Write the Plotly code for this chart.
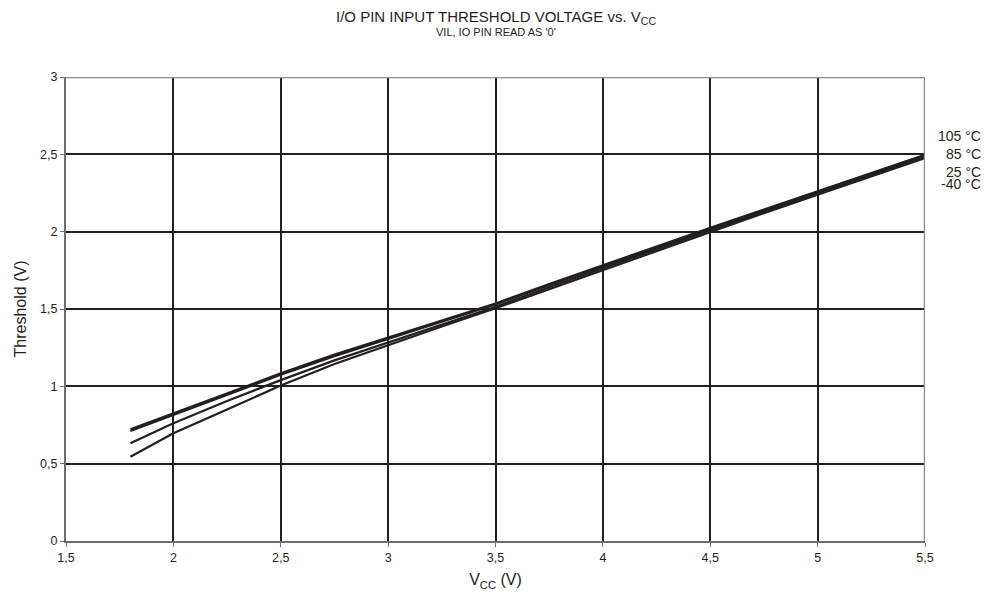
import plotly.graph_objects as go

vcc = [1.8, 2.0, 2.25, 2.5, 2.75, 3.0, 3.25, 3.5, 3.75, 4.0, 4.25, 4.5, 4.75, 5.0, 5.25, 5.5]
t105 = [0.722, 0.825, 0.958, 1.084, 1.205, 1.317, 1.424, 1.536, 1.662, 1.784, 1.905, 2.025, 2.143, 2.262, 2.380, 2.497]
t85 = [0.711, 0.815, 0.948, 1.075, 1.195, 1.305, 1.415, 1.530, 1.654, 1.776, 1.898, 2.019, 2.139, 2.258, 2.375, 2.492]
t25 = [0.632, 0.761, 0.905, 1.040, 1.168, 1.285, 1.398, 1.515, 1.641, 1.765, 1.888, 2.010, 2.130, 2.250, 2.367, 2.485]
tm40 = [0.545, 0.696, 0.850, 1.005, 1.145, 1.268, 1.387, 1.505, 1.628, 1.752, 1.877, 2.000, 2.120, 2.239, 2.357, 2.476]
series_names = ["105 °C", "85 °C", "25 °C", "-40 °C"]
label_y = [2.62, 2.505, 2.385, 2.31]

x_ticks = [1.5, 2, 2.5, 3, 3.5, 4, 4.5, 5, 5.5]
x_ticktext = ["1,5", "2", "2,5", "3", "3,5", "4", "4,5", "5", "5,5"]
y_ticks = [0, 0.5, 1, 1.5, 2, 2.5, 3]
y_ticktext = ["0", "0,5", "1", "1,5", "2", "2,5", "3"]

FONT = "Liberation Sans, Arial"
INK = "#231f20"

fig = go.Figure()
for name, ys in zip(series_names, [t105, t85, t25, tm40]):
    fig.add_trace(go.Scatter(x=vcc, y=ys, mode="lines", name=name,
                             line=dict(color=INK, width=2.2), showlegend=False))

# top and right frame (gray)
fig.add_shape(type="line", xref="x", yref="y", x0=1.5, x1=5.5, y0=3, y1=3,
              line=dict(color="#8c8c8c", width=2.5), layer="above")
fig.add_shape(type="line", xref="x", yref="y", x0=5.5, x1=5.5, y0=0, y1=3,
              line=dict(color="#8c8c8c", width=2.5), layer="above")

for name, ly in zip(series_names, label_y):
    fig.add_annotation(x=1.0, xref="paper", y=ly, yref="y", text=name,
                       xanchor="right", yanchor="middle", xshift=58, showarrow=False,
                       font=dict(size=14, color=INK, family=FONT), align="right")

fig.add_annotation(x=0.5, xref="paper", y=1.0, yref="paper", yshift=60,
                   xanchor="center", yanchor="middle",
                   text="I/O PIN INPUT THRESHOLD VOLTAGE vs. V<sub>CC</sub>",
                   showarrow=False, font=dict(size=15, color=INK, family=FONT))
fig.add_annotation(x=0.5, xref="paper", y=1.0, yref="paper", yshift=45,
                   xanchor="center", yanchor="middle",
                   text="VIL, IO PIN READ AS '0'", showarrow=False,
                   font=dict(size=11, color=INK, family=FONT))

# page body has an 8px margin: figure is sized/margined to land the plot area
# at the same window position as the reference
fig.update_layout(
    width=979, height=584,
    margin=dict(l=58, r=62, t=69, b=51, autoexpand=False),
    paper_bgcolor="white", plot_bgcolor="white",
    font=dict(family=FONT, color=INK, size=12),
    xaxis=dict(range=[1.5, 5.5], tickvals=x_ticks, ticktext=x_ticktext,
               automargin=False,
               showgrid=True, gridcolor=INK, gridwidth=2,
               showline=True, linecolor="#6e6e6e", linewidth=2,
               ticks="outside", ticklen=4, tickcolor="#6e6e6e",
               zeroline=False, tickfont=dict(size=12.5),
               title=dict(text="V<sub>CC</sub> (V)", font=dict(size=16), standoff=10)),
    yaxis=dict(range=[0, 3], tickvals=y_ticks, ticktext=y_ticktext,
               automargin=False,
               showgrid=True, gridcolor=INK, gridwidth=2,
               showline=True, linecolor="#6e6e6e", linewidth=2,
               ticks="outside", ticklen=4, tickcolor="#6e6e6e",
               zeroline=False, tickfont=dict(size=12.5),
               title=dict(text="Threshold (V)", font=dict(size=16), standoff=10)),
)

fig.write_html("out.html")
